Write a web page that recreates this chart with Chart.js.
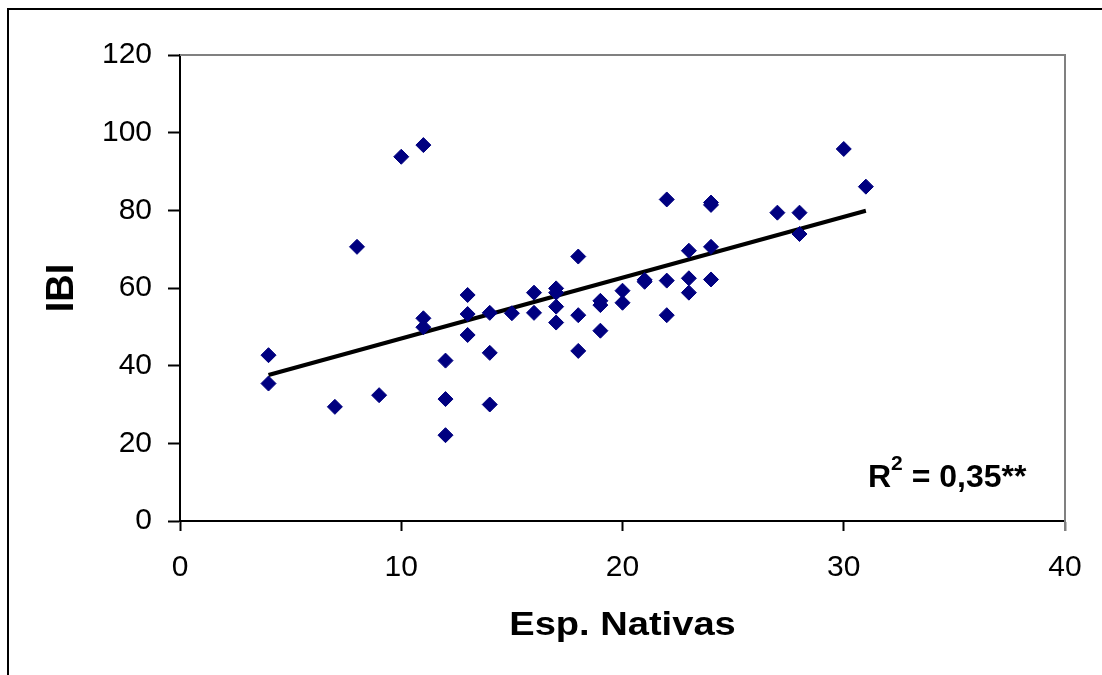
<!DOCTYPE html>
<html>
<head>
<meta charset="utf-8">
<script src="https://cdn.jsdelivr.net/npm/chart.js@4/dist/chart.umd.min.js"></script>
<style>
  html, body { margin: 0; padding: 0; background: #fff; }
  #wrap { width: 1102px; height: 675px; position: relative; }
</style>
</head>
<body>
<div id="wrap"><canvas id="ibiChart"></canvas></div>
<script>
// values
const espNativas = [4, 4, 7, 8, 9, 10, 11, 11, 11, 12, 12, 12, 13, 13, 13, 14, 14, 14, 15, 16, 16,
  17, 17, 17, 17, 18, 18, 18, 19, 19, 19, 20, 20, 21, 21, 22, 22, 22, 23, 23, 23,
  24, 24, 24, 24, 27, 28, 28, 30, 31];
const ibi = [42.7, 35.4, 29.4, 70.6, 32.4, 93.8, 96.8, 52.2, 49.9, 41.3, 31.4, 22.1, 58.2, 53.3, 47.9,
  53.6, 43.3, 30.0, 53.5, 58.8, 53.6, 59.9, 58.8, 55.2, 51.1, 68.1, 53.0, 43.8, 56.7, 55.6, 49.0,
  59.3, 56.2, 62.1, 61.6, 82.8, 61.9, 53.0, 69.6, 62.5, 58.8, 82.0, 81.4, 70.6, 62.2, 79.4,
  79.4, 73.9, 95.8, 86.1];
// linear trend line ends
const trendX = [4, 31];
const trendY = [37.6, 79.9];
const xTicks = [0, 10, 20, 30, 40];
const yTicks = [0, 20, 40, 60, 80, 100, 120];

const FONT = "'Liberation Sans', Arial, sans-serif";

const points = espNativas.map((x, i) => ({ x: x, y: ibi[i] }));
const trend = trendX.map((x, i) => ({ x: x, y: trendY[i] }));

const decor = {
  id: 'decor',
  beforeDraw(chart) {
    const ctx = chart.ctx;
    ctx.save();
    ctx.fillStyle = '#fff';
    ctx.fillRect(0, 0, chart.width, chart.height);
    // outer frame (top + left)
    ctx.strokeStyle = '#000';
    ctx.lineWidth = 2;
    ctx.beginPath();
    ctx.moveTo(chart.width, 9);
    ctx.lineTo(8, 9);
    ctx.lineTo(8, chart.height);
    ctx.stroke();
    ctx.restore();
  },
  beforeDatasetsDraw(chart) {
    const ctx = chart.ctx;
    const a = chart.chartArea;
    ctx.save();
    ctx.strokeStyle = '#808080';
    ctx.lineWidth = 2;
    ctx.beginPath();
    ctx.moveTo(a.left, a.top);
    ctx.lineTo(a.right, a.top);
    ctx.lineTo(a.right, a.bottom + 10);
    ctx.stroke();
    ctx.restore();
  },
  afterDraw(chart) {
    const ctx = chart.ctx;
    const a = chart.chartArea;
    ctx.save();
    ctx.fillStyle = '#000';
    // y title
    ctx.font = 'bold 38px ' + FONT;
    ctx.textAlign = 'center';
    ctx.textBaseline = 'alphabetic';
    ctx.save();
    ctx.translate(73, (a.top + a.bottom) / 2);
    ctx.rotate(-Math.PI / 2);
    ctx.fillText('IBI', 0, 0);
    ctx.restore();
    // x title
    ctx.save();
    ctx.font = 'bold 34px ' + FONT;
    ctx.translate((a.left + a.right) / 2, 635);
    ctx.scale(1.12, 1);
    ctx.fillText('Esp. Nativas', 0, 0);
    ctx.restore();
    // R squared
    ctx.textAlign = 'left';
    let x = 868;
    ctx.font = 'bold 32px ' + FONT;
    ctx.fillText('R', x, 487);
    x += ctx.measureText('R').width;
    ctx.font = 'bold 21px ' + FONT;
    ctx.fillText('2', x, 470);
    x += ctx.measureText('2').width;
    ctx.font = 'bold 32px ' + FONT;
    ctx.fillText(' = 0,35**', x, 487);
    ctx.restore();
  }
};

new Chart(document.getElementById('ibiChart'), {
  type: 'scatter',
  data: {
    datasets: [{
      data: points,
      pointStyle: 'rectRot',
      pointRadius: 7.5,
      pointHoverRadius: 7.5,
      backgroundColor: '#000080',
      borderColor: '#000080',
      borderWidth: 1
    }, {
      type: 'line',
      data: trend,
      borderColor: '#000',
      borderWidth: 4,
      pointRadius: 0,
      fill: false
    }]
  },
  options: {
    responsive: true,
    maintainAspectRatio: false,
    animation: false,
    events: [],
    layout: { padding: { left: 0, top: 55, right: 37, bottom: 0 } },
    plugins: { legend: { display: false }, tooltip: { enabled: false } },
    scales: {
      x: {
        type: 'linear',
        min: 0, max: 40,
        afterFit: s => { s.height = 154; },
        afterBuildTicks: s => { s.ticks = xTicks.map(v => ({ value: v })); },
        border: { color: '#000', width: 2 },
        grid: {
          drawOnChartArea: false,
          tickLength: 10,
          tickWidth: 2,
          tickColor: c => c.tick && c.tick.value === 40 ? '#808080' : '#000'
        },
        ticks: { color: '#000', font: { family: FONT, size: 30 }, padding: 19, maxRotation: 0 }
      },
      y: {
        type: 'linear',
        min: 0, max: 120,
        afterFit: s => { s.width = 180; },
        afterBuildTicks: s => { s.ticks = yTicks.map(v => ({ value: v })); },
        border: { color: '#000', width: 2 },
        grid: {
          drawOnChartArea: false,
          tickLength: 12,
          tickWidth: 2,
          tickColor: '#000'
        },
        ticks: { color: '#000', font: { family: FONT, size: 30 }, padding: 16 }
      }
    }
  },
  plugins: [decor]
});
</script>
</body>
</html>
